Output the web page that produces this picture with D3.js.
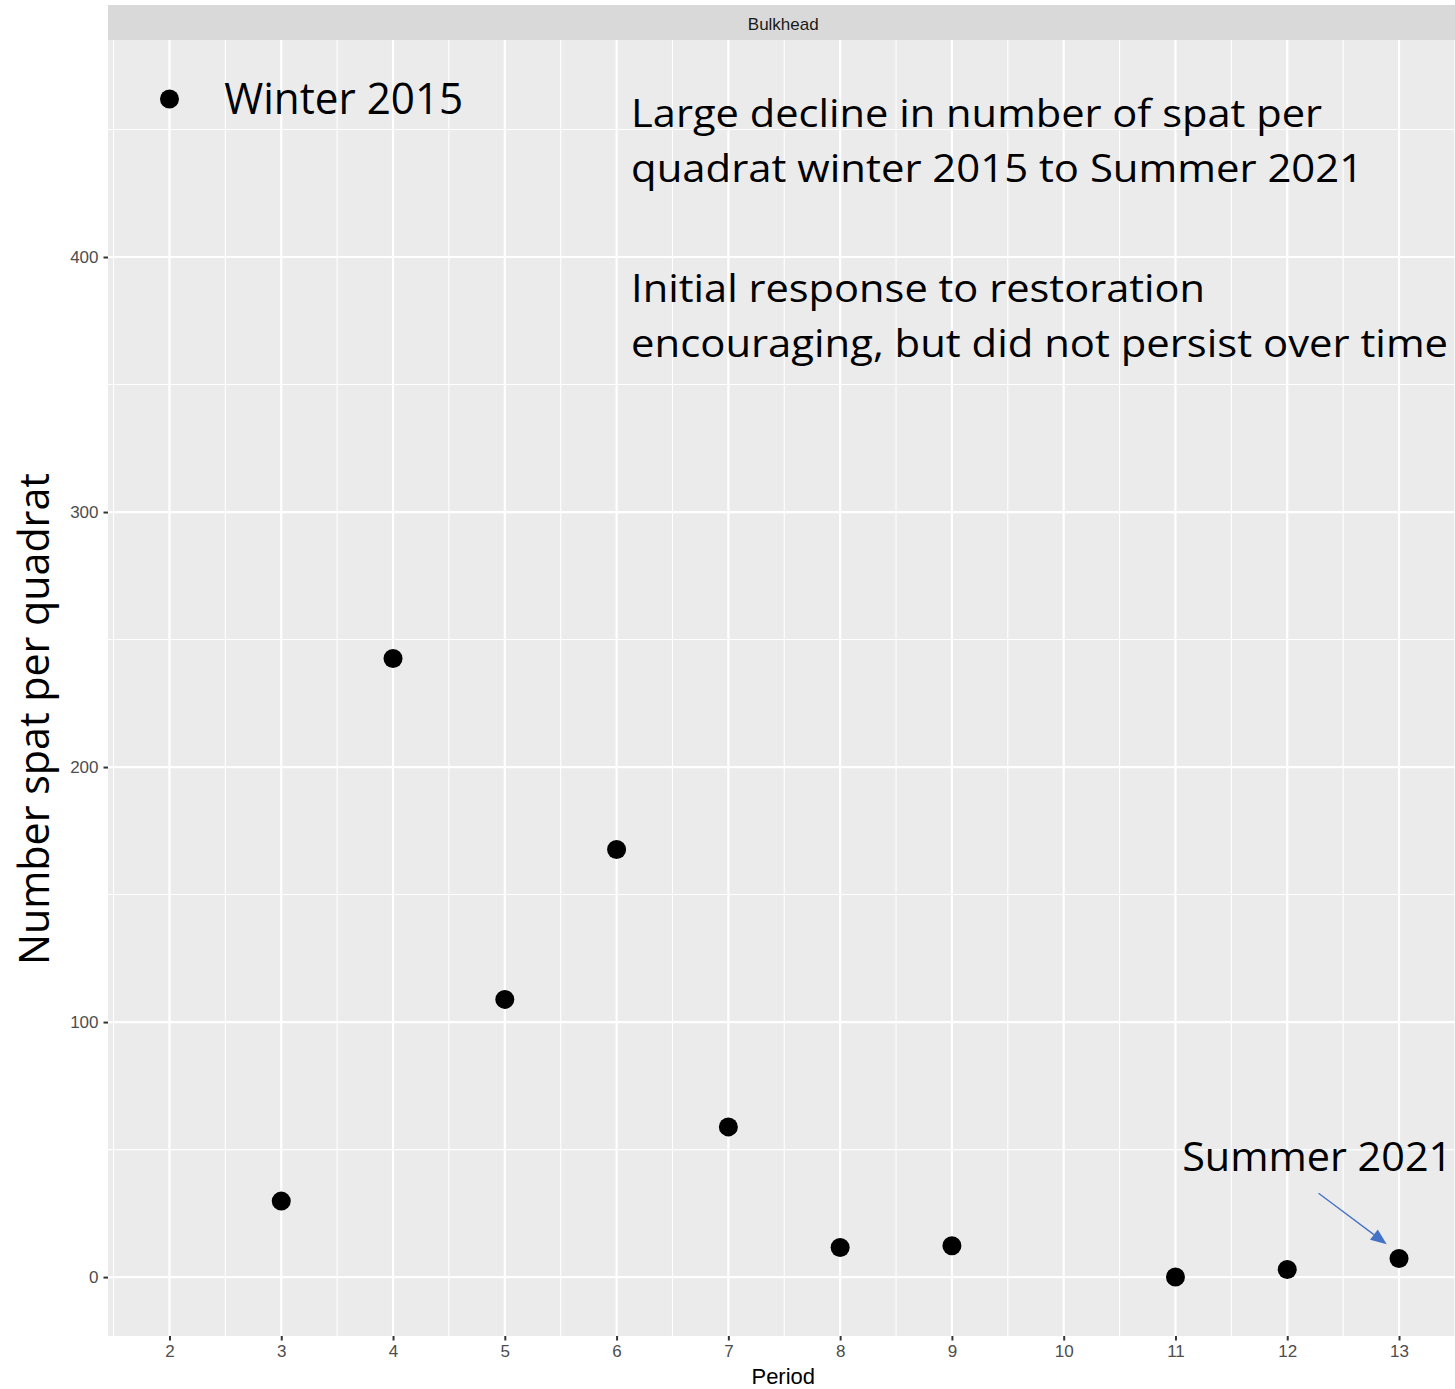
<!DOCTYPE html>
<html>
<head>
<meta charset="utf-8">
<script src="https://cdn.jsdelivr.net/npm/d3@7"></script>
<style>
  body { margin: 0; background: #ffffff; }
  svg { display: block; }
</style>
</head>
<body>
<svg id="chart"></svg>
<script>
// Spat counts per period at the Bulkhead site.
const periods = [2, 3, 4, 5, 6, 7, 8, 9, 11, 12, 13];
const spatCounts = [462, 29.8, 242.6, 108.9, 167.7, 58.9, 11.6, 12.3, 0, 3.0, 7.3];

// Axis breaks.
const xTicks = [2, 3, 4, 5, 6, 7, 8, 9, 10, 11, 12, 13];
const yTicks = [0, 100, 200, 300, 400];

// Text notes, placed in data units.
const noteLines = [
  "Large decline in number of spat per",
  "quadrat winter 2015 to Summer 2021",
  "",
  "Initial response to restoration",
  "encouraging, but did not persist over time"
];

const width = 1455;
const height = 1389;

const svg = d3.select("#chart")
  .attr("width", width)
  .attr("height", height);

// Panel box (ggplot style, right edge runs a little past the picture).
const panel = { left: 108, right: 1460.5, top: 40, bottom: 1336 };

// ggplot adds 5% padding on each side of the data range.
const xMin = d3.min(periods), xMax = d3.max(periods);
const yMin = d3.min(spatCounts), yMax = d3.max(spatCounts);
const xPad = (xMax - xMin) * 0.05;
const yPad = (yMax - yMin) * 0.05;

const x = d3.scaleLinear()
  .domain([xMin - xPad, xMax + xPad])
  .range([panel.left, panel.right]);

const y = d3.scaleLinear()
  .domain([yMin - yPad, yMax + yPad])
  .range([panel.bottom, panel.top]);

// Grey strip with the facet name.
svg.append("rect")
  .attr("x", panel.left)
  .attr("y", 5)
  .attr("width", panel.right - panel.left)
  .attr("height", panel.top - 5)
  .attr("fill", "#d9d9d9");

svg.append("text")
  .attr("x", (panel.left + panel.right) / 2 - 1)
  .attr("y", 30)
  .attr("text-anchor", "middle")
  .attr("font-family", "Liberation Sans, Arial, sans-serif")
  .attr("font-size", 17)
  .attr("fill", "#1a1a1a")
  .text("Bulkhead");

// Panel background.
svg.append("rect")
  .attr("x", panel.left)
  .attr("y", panel.top)
  .attr("width", panel.right - panel.left)
  .attr("height", panel.bottom - panel.top)
  .attr("fill", "#ebebeb");

const grid = svg.append("g");

// Minor grid lines sit half way between the breaks.
const xMinor = d3.range(xTicks[0] - 0.5, xTicks[xTicks.length - 1] + 1, 1);
const yMinor = yTicks.map(v => v + 50);

grid.selectAll(".x-minor")
  .data(xMinor)
  .enter()
  .append("line")
  .attr("x1", d => x(d)).attr("x2", d => x(d))
  .attr("y1", panel.top).attr("y2", panel.bottom)
  .attr("stroke", "#ffffff")
  .attr("stroke-width", 1.1);

grid.selectAll(".y-minor")
  .data(yMinor)
  .enter()
  .append("line")
  .attr("x1", panel.left).attr("x2", panel.right)
  .attr("y1", d => y(d)).attr("y2", d => y(d))
  .attr("stroke", "#ffffff")
  .attr("stroke-width", 1.1);

grid.selectAll(".x-major")
  .data(xTicks)
  .enter()
  .append("line")
  .attr("x1", d => x(d)).attr("x2", d => x(d))
  .attr("y1", panel.top).attr("y2", panel.bottom)
  .attr("stroke", "#ffffff")
  .attr("stroke-width", 2.2);

grid.selectAll(".y-major")
  .data(yTicks)
  .enter()
  .append("line")
  .attr("x1", panel.left).attr("x2", panel.right)
  .attr("y1", d => y(d)).attr("y2", d => y(d))
  .attr("stroke", "#ffffff")
  .attr("stroke-width", 2.2);

// Axes.
const xAxis = svg.append("g")
  .attr("transform", `translate(0,${panel.bottom})`)
  .call(d3.axisBottom(x).tickValues(xTicks).tickSize(4.5).tickPadding(4));

const yAxis = svg.append("g")
  .attr("transform", `translate(${panel.left},0)`)
  .call(d3.axisLeft(y).tickValues(yTicks).tickSize(4.5).tickPadding(5));

[xAxis, yAxis].forEach(axis => {
  axis.select(".domain").remove();
  axis.selectAll(".tick line")
    .attr("stroke", "#333333")
    .attr("stroke-width", 2);
  axis.selectAll(".tick text")
    .attr("font-family", "Liberation Sans, Arial, sans-serif")
    .attr("font-size", 17)
    .attr("fill", "#4d4d4d");
});

// Axis titles.
svg.append("text")
  .attr("x", (panel.left + panel.right) / 2 - 1)
  .attr("y", 1384)
  .attr("text-anchor", "middle")
  .attr("font-family", "Liberation Sans, Arial, sans-serif")
  .attr("font-size", 22)
  .attr("fill", "#000000")
  .text("Period");

svg.append("text")
  .attr("transform", "translate(49,719) rotate(-90)")
  .attr("text-anchor", "middle")
  .attr("font-family", "Open Sans, Noto Sans, sans-serif")
  .attr("font-size", 42)
  .attr("textLength", 492)
  .attr("lengthAdjust", "spacingAndGlyphs")
  .attr("fill", "#000000")
  .text("Number spat per quadrat");

// Points.
svg.append("g")
  .selectAll("circle")
  .data(periods.map((p, i) => ({ period: p, count: spatCounts[i] })))
  .enter()
  .append("circle")
  .attr("cx", d => x(d.period))
  .attr("cy", d => y(d.count))
  .attr("r", 9.5)
  .attr("fill", "#000000");

// Notes.
const noteFont = "Open Sans, Noto Sans, sans-serif";

svg.append("text")
  .attr("x", x(2.49))
  .attr("y", y(456))
  .attr("font-family", noteFont)
  .attr("font-size", 43)
  .attr("textLength", 239)
  .attr("lengthAdjust", "spacingAndGlyphs")
  .text("Winter 2015");

const noteWidths = [691, 732, 0, 574, 817];
const noteBase = [451, 429.4, 0, 382.4, 360.8];

svg.append("g")
  .selectAll("text")
  .data(noteLines.map((t, i) => ({ text: t, w: noteWidths[i], v: noteBase[i] })).filter(d => d.text))
  .enter()
  .append("text")
  .attr("x", x(6.13))
  .attr("y", d => y(d.v))
  .attr("font-family", noteFont)
  .attr("font-size", 39)
  .attr("textLength", d => d.w)
  .attr("lengthAdjust", "spacingAndGlyphs")
  .text(d => d.text);

svg.append("text")
  .attr("x", x(11.06))
  .attr("y", y(41.6))
  .attr("font-family", noteFont)
  .attr("font-size", 41)
  .attr("textLength", 270)
  .attr("lengthAdjust", "spacingAndGlyphs")
  .text("Summer 2021");

// Blue arrow pointing at the last point.
const arrowFrom = [x(12.28), y(32.9)];
const arrowTo = [x(12.89), y(12.9)];
const ang = Math.atan2(arrowTo[1] - arrowFrom[1], arrowTo[0] - arrowFrom[0]);
const headLen = 16, headHalf = 6.5;
const baseX = arrowTo[0] - headLen * Math.cos(ang);
const baseY = arrowTo[1] - headLen * Math.sin(ang);

svg.append("line")
  .attr("x1", arrowFrom[0]).attr("y1", arrowFrom[1])
  .attr("x2", baseX).attr("y2", baseY)
  .attr("stroke", "#4472c4")
  .attr("stroke-width", 1.3);

svg.append("path")
  .attr("d", d3.line()([
    arrowTo,
    [baseX + headHalf * Math.sin(ang), baseY - headHalf * Math.cos(ang)],
    [baseX - headHalf * Math.sin(ang), baseY + headHalf * Math.cos(ang)]
  ]) + "Z")
  .attr("fill", "#4472c4");
</script>
</body>
</html>
